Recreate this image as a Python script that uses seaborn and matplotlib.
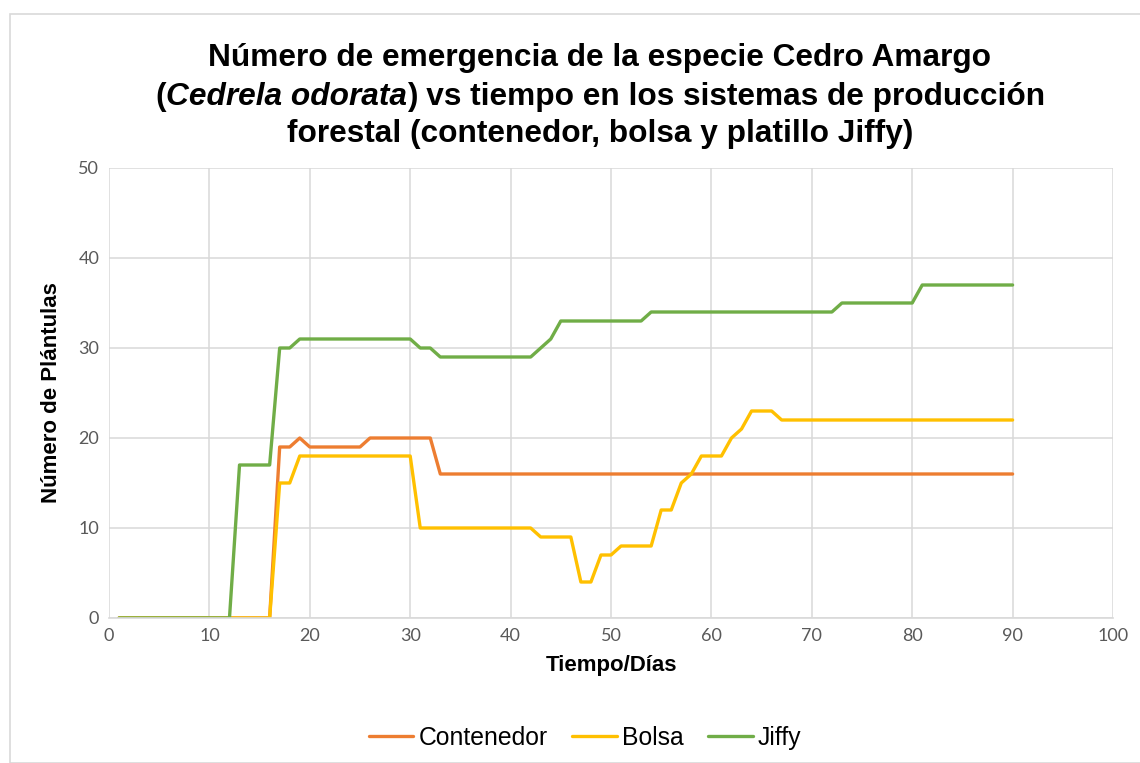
import matplotlib
matplotlib.use("Agg")
import matplotlib.pyplot as plt
import seaborn as sns
import pandas as pd
from matplotlib.patches import Rectangle
from matplotlib.lines import Line2D

# Datos (días 1 a 90)
dias = list(range(1, 91))

contenedor = ([0] * 16 + [19, 19, 20] + [19] * 6 + [20] * 7 + [16] * 58)
bolsa = ([0] * 16 + [15, 15] + [18] * 12 + [10] * 12 + [9] * 4 + [4, 4, 7, 7]
         + [8] * 4 + [12, 12, 15, 16, 18, 18, 18, 20, 21, 23, 23, 23] + [22] * 24)
jiffy = ([0] * 12 + [17] * 4 + [30, 30] + [31] * 12 + [30, 30] + [29] * 10
         + [30, 31] + [33] * 9 + [34] * 19 + [35] * 8 + [37] * 10)

series = ["Contenedor", "Bolsa", "Jiffy"]
colores = ["#ED7D31", "#FFC000", "#70AD47"]

df = pd.DataFrame({
    "dia": dias * 3,
    "valor": contenedor + bolsa + jiffy,
    "serie": [s for s in series for _ in dias],
})

sns.set_theme(style="white")
plt.rcParams["font.family"] = ["Liberation Sans", "DejaVu Sans"]
plt.rcParams["text.color"] = "black"

fig = plt.figure(figsize=(11.4, 7.63), dpi=100)
ax = fig.add_axes([109 / 1140, 1 - 618 / 763, (1113 - 109) / 1140, (618 - 168) / 763])

# marco gris del área del gráfico
fig.patches.append(Rectangle((10 / 1140, 0), 1.2, 1 - 14 / 763, transform=fig.transFigure,
                             fill=False, edgecolor="#d9d9d9", linewidth=1.2))

sns.lineplot(data=df, x="dia", y="valor", hue="serie", hue_order=series,
             palette=colores, linewidth=2.4, ax=ax, legend=False)

ax.set_xlim(0, 100)
ax.set_ylim(0, 50)
ax.set_xticks(range(0, 101, 10))
ax.set_yticks(range(0, 51, 10))
ax.grid(True, color="#d9d9d9", linewidth=1.1)
ax.set_axisbelow(True)
for s in ["top", "right", "left"]:
    ax.spines[s].set_visible(False)
ax.spines["bottom"].set_color("#d9d9d9")
ax.spines["bottom"].set_linewidth(1.2)
ax.tick_params(axis="both", length=0, labelsize=13, labelcolor="#595959", pad=7)
for lab in ax.get_xticklabels() + ax.get_yticklabels():
    lab.set_family(["Lato", "DejaVu Sans"])

ax.set_xlabel("Tiempo/Días", fontsize=16, fontweight="bold", color="black", labelpad=8)
ax.set_ylabel("Número de Plántulas", fontsize=16, fontweight="bold", color="black", labelpad=12)

# Título en tres líneas, con nombre científico en cursiva
tfs = 22.8
xc = 600 / 1140
fig.text(xc, 1 - 58 / 763, "Número de emergencia de la especie Cedro Amargo",
         ha="center", va="center", fontsize=tfs, fontweight="bold")
fig.text(xc, 1 - 134 / 763, "forestal (contenedor, bolsa y platillo Jiffy)",
         ha="center", va="center", fontsize=tfs, fontweight="bold")

partes = [("(", "normal"), ("Cedrela odorata", "italic"),
          (") vs tiempo en los sistemas de producción", "normal")]
fig.canvas.draw()
renderer = fig.canvas.get_renderer()
textos = []
total = 0
for txt, estilo in partes:
    t = fig.text(0, 1 - 97 / 763, txt, ha="left", va="center", fontsize=tfs,
                 fontweight="bold", fontstyle=estilo)
    w = t.get_window_extent(renderer).width
    textos.append((t, w))
    total += w
x = xc * fig.bbox.width - total / 2
for t, w in textos:
    t.set_x(x / fig.bbox.width)
    x += w

# Leyenda inferior
handles = [Line2D([], [], color=c, linewidth=2.4) for c in colores]
fig.legend(handles, series, loc="center", bbox_to_anchor=(585 / 1140, 1 - 738 / 763),
           ncol=3, frameon=False, fontsize=17.8, handlelength=1.8, columnspacing=1.0,
           handletextpad=0.2, labelcolor="black")

fig.savefig("out.png", dpi=100)
